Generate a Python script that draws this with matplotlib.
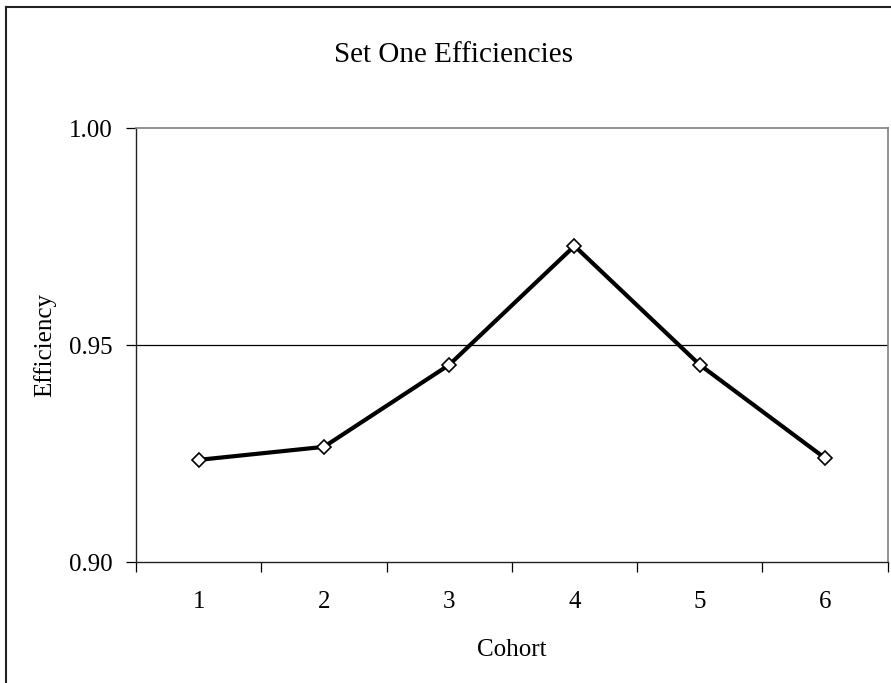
import numpy as np
import matplotlib
matplotlib.use("Agg")
import matplotlib.pyplot as plt
from matplotlib.lines import Line2D

plt.rcParams['font.family'] = ['Liberation Serif', 'DejaVu Serif']

cohorts = ['1', '2', '3', '4', '5', '6']
efficiency = [0.9236, 0.9266, 0.9455, 0.9729, 0.9455, 0.9240]
y_ticks = [0.90, 0.95, 1.00]

W, H = 891, 683
fig = plt.figure(figsize=(W / 100, H / 100), dpi=100)
ax = fig.add_axes([136 / W, 1 - 562.3 / H, (887.7 - 136) / W, (562.3 - 128.3) / H])

x = np.arange(len(cohorts))
ax.axhline(0.95, color='black', lw=0.9, zorder=1)
ax.plot(x, efficiency, color='black', lw=3.0, marker='D', ms=7.3,
        mfc='white', mec='black', mew=1.2, zorder=3)

ax.set_xlim(-0.5, len(cohorts) - 0.5)
ax.set_ylim(0.90, 1.00)

# ticks between categories, labels centred
ax.set_xticks(np.arange(-0.5, len(cohorts)), labels=[''] * (len(cohorts) + 1))
ax.set_xticks(x, labels=cohorts, minor=True)
ax.tick_params(axis='x', which='major', direction='out', length=7.5, width=0.9)
ax.tick_params(axis='x', which='minor', length=0, pad=21, labelsize=18)
ax.set_yticks(y_ticks, labels=['%.2f' % v for v in y_ticks])
ax.tick_params(axis='y', direction='out', length=7.5, width=0.9, pad=9, labelsize=18)

for s in ['left', 'bottom']:
    ax.spines[s].set_color('#222222')
    ax.spines[s].set_linewidth(1.0)
for s in ['top', 'right']:
    ax.spines[s].set_color('#808080')
    ax.spines[s].set_linewidth(1.2)

fig.text(454 / W, 1 - 61.7 / H, 'Set One Efficiencies', ha='center', va='baseline', fontsize=21)
fig.text(45 / W, 1 - 345 / H, 'Efficiency', rotation=90, ha='center', va='center', fontsize=18)
fig.text(512 / W, 1 - 655.7 / H, 'Cohort', ha='center', va='baseline', fontsize=18)

# outer chart border (right and bottom are cut off)
fig.add_artist(Line2D([6 / W, 6 / W], [0, 1 - 7 / H], color='#222222', lw=1.5))
fig.add_artist(Line2D([6 / W, 1], [1 - 7 / H, 1 - 7 / H], color='#222222', lw=1.5))

fig.savefig('out.png', dpi=100)
